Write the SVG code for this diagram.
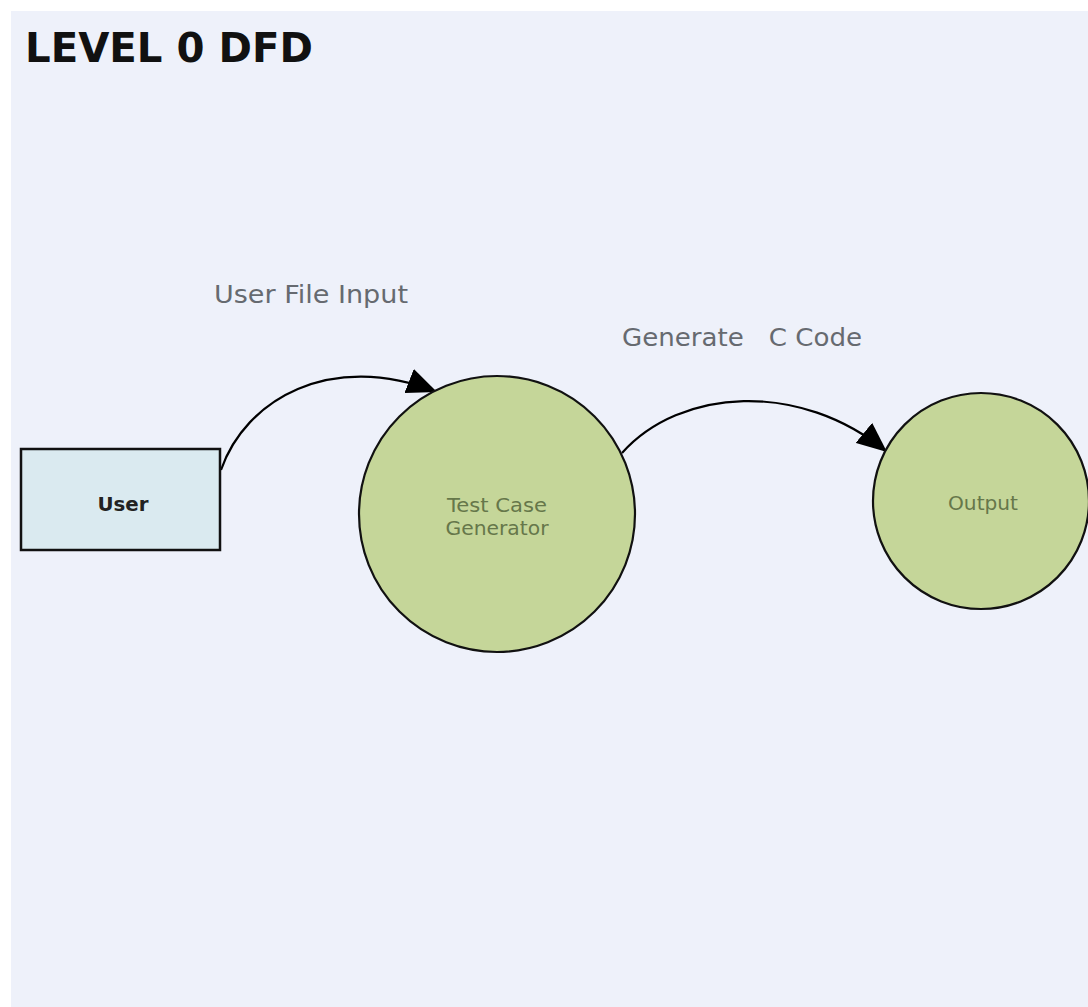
<svg xmlns="http://www.w3.org/2000/svg" width="1088" height="1007" viewBox="0 0 1088 1007">
  <style>
    .title { font-family: "DejaVu Sans", Verdana, sans-serif; font-weight: bold; font-size: 40px; fill: #111; }
    .flow { font-family: "DejaVu Sans", Verdana, sans-serif; font-size: 24px; fill: #666a70; }
    .proc { fill: #c5d699; stroke: #111; stroke-width: 2.2; }
    .proc-label { font-family: "DejaVu Sans", Verdana, sans-serif; font-size: 19px; fill: #66774a; text-anchor: middle; }
    .entity { fill: #daeaf0; stroke: #111; stroke-width: 2.5; }
    .entity-label { font-family: "DejaVu Sans", Verdana, sans-serif; font-weight: bold; font-size: 19px; fill: #222; text-anchor: middle; }
    .edge { fill: none; stroke: #000; stroke-width: 2.2; }
  </style>
  <defs>
    <marker id="arrow" markerUnits="userSpaceOnUse" markerWidth="32" markerHeight="26" refX="30" refY="13" orient="auto">
      <path d="M0,0 L30,13 L0,26 Z" fill="#000"/>
    </marker>
  </defs>

  <!-- page background -->
  <rect x="0" y="0" width="1088" height="1007" fill="#ffffff"/>
  <rect x="11" y="11" width="1077" height="996" fill="#eef1fa"/>

  <text class="title" x="25" y="62" textLength="288" lengthAdjust="spacingAndGlyphs">LEVEL 0 DFD</text>

  <!-- data flows -->
  <g id="connectors">
    <path class="edge" d="M221,470 C245,400 330,350 437,392" marker-end="url(#arrow)"/>
    <path class="edge" d="M622,453 C680,388 800,380 887,452" marker-end="url(#arrow)"/>
  </g>

  <g id="label-user-file-input">
    <text class="flow" x="214" y="303" textLength="194" lengthAdjust="spacingAndGlyphs">User File Input</text>
  </g>
  <g id="label-generate-c-code">
    <text class="flow" x="622" y="346" textLength="240" lengthAdjust="spacingAndGlyphs" xml:space="preserve">Generate   C Code</text>
  </g>

  <g id="user">
    <rect class="entity" x="21" y="449" width="199" height="101"/>
    <text class="entity-label" x="123" y="511" textLength="51" lengthAdjust="spacingAndGlyphs">User</text>
  </g>

  <g id="test-case-generator">
    <circle class="proc" cx="497" cy="514" r="138"/>
    <text class="proc-label" x="497" y="512" textLength="100" lengthAdjust="spacingAndGlyphs">Test Case</text>
    <text class="proc-label" x="497" y="535" textLength="103" lengthAdjust="spacingAndGlyphs">Generator</text>
  </g>

  <g id="output">
    <circle class="proc" cx="981" cy="501" r="108"/>
    <text class="proc-label" x="983" y="510" textLength="70" lengthAdjust="spacingAndGlyphs">Output</text>
  </g>
</svg>
